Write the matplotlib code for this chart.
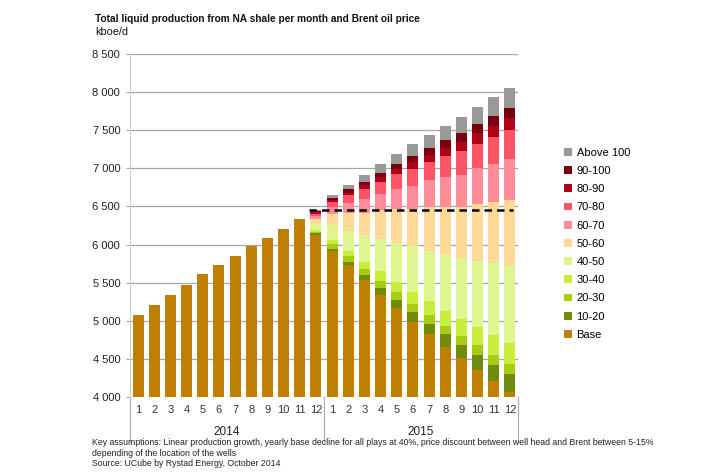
import matplotlib.pyplot as plt
import matplotlib.transforms as mtransforms
import numpy as np

plt.rcParams['font.family'] = ['Liberation Sans', 'DejaVu Sans']

months = ['1', '2', '3', '4', '5', '6', '7', '8', '9', '10', '11', '12'] * 2
years = ['2014', '2015']

labels = ['Base', '10-20', '20-30', '30-40', '40-50', '50-60',
          '60-70', '70-80', '80-90', '90-100', 'Above 100']
colors = ['#BF7F00', '#6E8B0A', '#A8CC10', '#C8EE3C', '#E0F590', '#FFD998',
          '#FF8C9A', '#FF5468', '#B0001A', '#780010', '#999999']

z11 = [0] * 11
base = [5080, 5210, 5340, 5475, 5615, 5735, 5855, 5975, 6090, 6210, 6330, 6130,
        5920, 5730, 5530, 5340, 5170, 4990, 4830, 4660, 4510, 4355, 4210, 4065]
p10_20 = z11 + [25, 27, 44, 74, 96, 109, 127, 132, 167, 171, 198, 210, 232]
p20_30 = z11 + [12, 62, 70, 75, 92, 97, 106, 118, 105, 123, 131, 132, 136]
p30_40 = z11 + [22, 57, 66, 96, 119, 136, 158, 175, 202, 219, 241, 263, 277]
p40_50 = z11 + [75, 188, 267, 351, 421, 513, 596, 667, 741, 807, 864, 938, 1013]
p50_60 = z11 + [75, 145, 242, 293, 381, 439, 491, 570, 623, 667, 746, 803, 859]
p60_70 = z11 + [40, 92, 131, 185, 220, 263, 307, 349, 390, 421, 469, 496, 535]
p70_80 = z11 + [25, 66, 97, 127, 153, 193, 211, 238, 272, 307, 321, 359, 386]
p80_90 = z11 + [20, 26, 35, 52, 62, 70, 92, 92, 110, 119, 144, 145, 154]
p90_100 = z11 + [15, 26, 44, 44, 57, 66, 79, 92, 96, 118, 110, 132, 131]
above100 = z11 + [12, 45, 61, 88, 114, 131, 158, 171, 189, 211, 232, 250, 272]

brent_level = 6460

series = [base, p10_20, p20_30, p30_40, p40_50, p50_60,
          p60_70, p70_80, p80_90, p90_100, above100]

fig = plt.figure(figsize=(7.11, 4.74), dpi=100)
ax = fig.add_axes([0.1828, 0.1624, 0.5457, 0.7236])

x = np.arange(len(months))
bottom = np.zeros(len(months))
handles = []
for vals, lab, col in zip(series, labels, colors):
    vals = np.array(vals, dtype=float)
    b = ax.bar(x, vals, 0.68, bottom=bottom, color=col, label=lab, zorder=2)
    handles.append(b)
    bottom += vals

# brent line
ax.hlines(brent_level, 10.6, 23.2, colors='black', linestyles=(0, (3, 2)),
          linewidth=1.8, zorder=5)

ax.set_xlim(-0.5, 23.5)
ax.set_ylim(4000, 8500)
ax.set_yticks(np.arange(4000, 8501, 500))
ax.set_yticklabels([f'{v:,}'.replace(',', ' ') for v in range(4000, 8501, 500)])
ax.grid(axis='y', color='#a6a6a6', linewidth=0.9, zorder=0)
ax.tick_params(axis='y', length=3, color='#a6a6a6', labelsize=8, labelcolor='#222222', pad=4)
ax.set_xticks(x)
ax.set_xticklabels(months)
ax.tick_params(axis='x', length=0, labelsize=8, labelcolor='#333333', pad=6)
for s in ['top', 'right', 'bottom']:
    ax.spines[s].set_visible(False)
ax.spines['left'].set_color('#d0d0d0')

# year separators and labels
trans = mtransforms.blended_transform_factory(ax.transData, ax.transAxes)
for xs in [-0.5, 11.5, 23.5]:
    ax.plot([xs, xs], [0, -0.131], color='#b0b0b0', linewidth=0.9,
            transform=trans, clip_on=False)
for i, yr in enumerate(years):
    ax.text(5.5 + 12 * i, -0.103, yr, transform=trans, ha='center', va='center',
            fontsize=8.5, color='#222222')

ax.legend(handles[::-1], labels[::-1], loc='upper left', bbox_to_anchor=(1.108, 0.74),
          frameon=False, fontsize=8, handlelength=0.7, handleheight=0.7,
          handletextpad=0.4, labelspacing=0.74, borderaxespad=0)

fig.text(0.1336, 0.971, 'Total liquid production from NA shale per month and Brent oil price',
         fontsize=7.3, fontweight='bold', va='top', color='#111111')
fig.text(0.1336, 0.942, 'kboe/d', fontsize=7.8, va='top', color='#111111')

notes = ['Key assumptions: Linear production growth, yearly base decline for all plays at 40%, '
         'price discount between well head and Brent between 5-15%',
         'depending of the location of the wells',
         'Source: UCube by Rystad Energy, October 2014']
for i, t in enumerate(notes):
    fig.text(0.1294, 0.066 - i * 0.022, t, fontsize=6.3, va='center', color='#222222')

fig.savefig('out.png', dpi=100)
